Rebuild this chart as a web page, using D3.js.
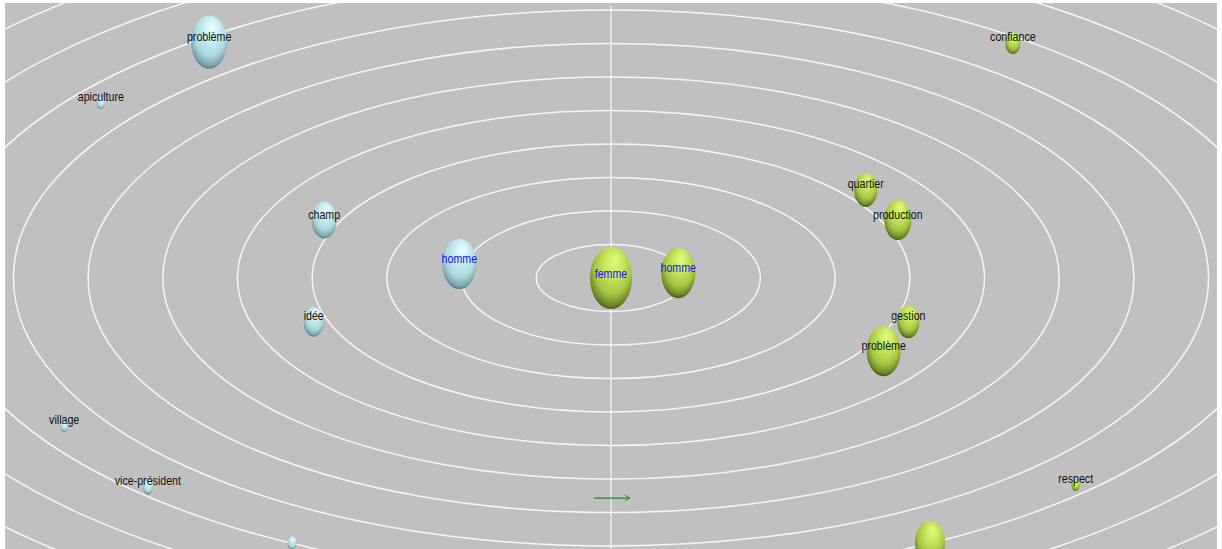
<html>
<head>
    <meta charset="utf-8">
    <title>Analyse factorielle - femme / homme</title>
    <style>
        body {
            margin: 0;
            background: white;
            font-family: "Liberation Sans", Arial, sans-serif;
        }
        .label {
            font-family: "Liberation Sans", Arial, sans-serif;
            font-size: 13px;
            text-anchor: middle;
        }
    </style>
    <script src="https://cdn.jsdelivr.net/npm/d3@7"></script>
</head>
<body>
    <div class="mainView"></div>
<script>
    // words and their position on the plane (ring units, y up)
    let words = ["problème", "apiculture", "champ", "idée", "homme", "village", "vice-président", "",
                 "femme", "homme", "quartier", "production", "gestion", "problème", "confiance", "respect", ""];
    let factorX = [-5.38, -6.83, -3.84, -3.98, -2.03, -7.32, -6.20, -4.27,
                   0, 0.90, 3.41, 3.84, 3.98, 3.65, 5.38, 6.22, 4.27];
    let factorY = [7.04, 5.22, 1.73, -1.31, 0.42, -4.42, -6.24, -7.91,
                   0, 0.15, 2.63, 1.73, -1.31, -2.18, 7.01, -6.18, -7.91];
    let weights = [324, 16, 156, 100, 289, 16, 25, 20,
                   441, 289, 132, 182, 121, 289, 56, 16, 225];
    let groups = ["bleu", "bleu", "bleu", "bleu", "bleu", "bleu", "bleu", "bleu",
                  "vert", "vert", "vert", "vert", "vert", "vert", "vert", "vert", "vert"];
    let centralWords = [4, 8, 9];   // labels drawn in blue
    let rings = d3.range(1, 13);
    let arrowX = [-0.23, 0.25];
    let arrowY = -6.57;

    function getChartConfig() {
        let width = 1222;
        let height = 549;
        let plate = { x: 5, y: 3, w: 1212, h: 546 };
        let svg = d3.select(".mainView")
                    .append("svg")
                    .attr("width", width)
                    .attr("height", height)
                    .style("display", "block");
        return { width, height, plate, svg };
    }

    function getChartScales() {
        let xScale = d3.scaleLinear().domain([-8, 8]).range([13.4, 1208.6]);
        let yScale = d3.scaleLinear().domain([-8, 8]).range([546, 10]);
        let rScale = d3.scaleSqrt().domain([0, 441]).range([0, 21]);
        return { xScale, yScale, rScale };
    }

    function drawDefs(config) {
        let defs = config.svg.append("defs");
        defs.append("clipPath").attr("id", "plateClip")
            .append("rect")
            .attr("x", config.plate.x).attr("y", config.plate.y)
            .attr("width", config.plate.w).attr("height", config.plate.h);

        let palettes = {
            bleu: ["#f0fdfe", "#c8eef2", "#abd8de", "#7aa5ac", "#557a80"],
            vert: ["#e2fb80", "#c6e85e", "#a6c644", "#6c8825", "#47591a"]
        };
        Object.keys(palettes).forEach(key => {
            let g = defs.append("radialGradient")
                .attr("id", "sphere-" + key)
                .attr("cx", "52%").attr("cy", "38%").attr("r", "62%")
                .attr("fx", "60%").attr("fy", "20%");
            let stops = [0, 0.35, 0.7, 0.92, 1];
            stops.forEach((s, i) => {
                g.append("stop").attr("offset", s).attr("stop-color", palettes[key][i]);
            });
        });

        defs.append("marker")
            .attr("id", "arrowHead")
            .attr("viewBox", "0 0 10 10")
            .attr("refX", 9).attr("refY", 5)
            .attr("markerWidth", 6).attr("markerHeight", 9)
            .attr("markerUnits", "userSpaceOnUse")
            .attr("orient", "auto")
            .append("path")
            .attr("d", "M1,0 L9,5 L1,10")
            .attr("fill", "none")
            .attr("stroke", "#1f8a1f")
            .attr("stroke-width", 1.4);
    }

    function drawRings(scales, config) {
        let { xScale, yScale } = scales;
        let { svg, plate } = config;
        svg.append("rect")
            .attr("x", plate.x).attr("y", plate.y)
            .attr("width", plate.w).attr("height", plate.h)
            .attr("fill", "#c0c0c0");

        let g = svg.append("g").attr("clip-path", "url(#plateClip)");
        g.selectAll("ellipse.ring")
            .data(rings)
            .enter()
            .append("ellipse")
            .attr("class", "ring")
            .attr("cx", xScale(0))
            .attr("cy", yScale(0))
            .attr("rx", d => xScale(d) - xScale(0))
            .attr("ry", d => yScale(0) - yScale(d))
            .attr("fill", "none")
            .attr("stroke", "#f6f6f6")
            .attr("stroke-width", 1.5);

        g.append("line")
            .attr("x1", xScale(0)).attr("x2", xScale(0))
            .attr("y1", 6).attr("y2", config.height)
            .attr("stroke", "white")
            .attr("stroke-width", 1);

        g.append("line")
            .attr("x1", xScale(arrowX[0])).attr("x2", xScale(arrowX[1]))
            .attr("y1", yScale(arrowY)).attr("y2", yScale(arrowY))
            .attr("stroke", "#1f8a1f")
            .attr("stroke-width", 1.4)
            .attr("marker-end", "url(#arrowHead)");
    }

    function drawSpheres(scales, config) {
        let { xScale, yScale, rScale } = scales;
        let data = words.map((w, i) => ({
            word: w, x: factorX[i], y: factorY[i], weight: weights[i],
            group: groups[i], central: centralWords.includes(i)
        }));
        let g = config.svg.append("g").attr("clip-path", "url(#plateClip)");

        g.selectAll("ellipse.sphere")
            .data(data)
            .enter()
            .append("ellipse")
            .attr("class", "sphere")
            .attr("cx", d => xScale(d.x))
            .attr("cy", d => yScale(d.y))
            .attr("rx", d => rScale(d.weight))
            .attr("ry", d => rScale(d.weight) * 1.48)
            .attr("fill", d => "url(#sphere-" + d.group + ")");

        // narrow-looking labels: squeeze horizontally, small spheres get label a bit higher
        g.selectAll("text.label")
            .data(data.filter(d => d.word !== ""))
            .enter()
            .append("text")
            .attr("class", "label")
            .attr("transform", d => {
                let lx = xScale(d.x);
                let ly = yScale(d.y) - (7.5 - 0.08 * rScale(d.weight) * 1.48);
                return "translate(" + [lx, ly] + ") scale(0.82,1)";
            })
            .attr("dy", "0.35em")
            .attr("fill", d => d.central ? "#1010ff" : "#111")
            .text(d => d.word);
    }

    function showData() {
        let config = getChartConfig();
        let scales = getChartScales();
        drawDefs(config);
        drawRings(scales, config);
        drawSpheres(scales, config);
    }
    showData();
</script>
</body>
</html>
